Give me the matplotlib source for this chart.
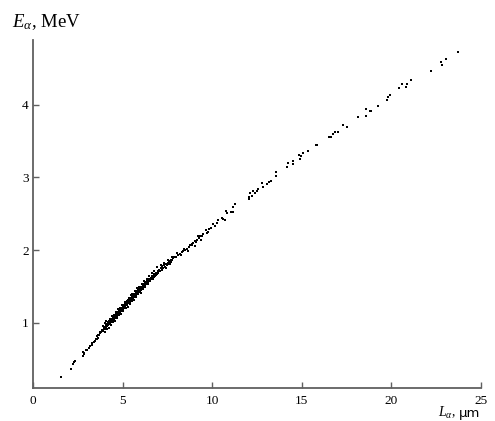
import matplotlib
matplotlib.use("Agg")
import matplotlib.pyplot as plt

plt.rcParams['font.family'] = ['Liberation Serif', 'DejaVu Serif']
plt.rcParams['mathtext.fontset'] = 'custom'
plt.rcParams['mathtext.rm'] = 'Liberation Serif'
plt.rcParams['mathtext.it'] = 'Liberation Serif:italic'

# Range L (um) and energy E (MeV) of alpha particles
L_low = [1.54, 2.12, 2.25, 2.29, 2.34, 2.77, 2.81, 2.83, 2.86, 2.96, 3.03, 3.10, 3.16,
         3.27, 3.30, 3.39, 3.46, 3.50, 3.55, 3.57, 3.60, 3.65, 3.70, 3.72, 3.76, 3.80, 3.83]
E_low = [0.25, 0.36, 0.43, 0.46, 0.48, 0.55, 0.60, 0.58, 0.57, 0.63, 0.63, 0.66, 0.68,
         0.69, 0.72, 0.74, 0.75, 0.78, 0.78, 0.82, 0.79, 0.84, 0.83, 0.87, 0.86, 0.88, 0.90]

L_dense = [3.88, 3.92, 3.95, 3.97, 4.00, 4.02, 4.05, 4.06, 4.09, 4.10, 4.13, 4.15, 4.17, 4.19,
           4.21, 4.23, 4.25, 4.27, 4.29, 4.31, 4.33, 4.35, 4.37, 4.39, 4.41, 4.43, 4.45, 4.47,
           4.49, 4.52,
           4.54, 4.56, 4.58, 4.60, 4.62, 4.64, 4.66, 4.68, 4.70, 4.72, 4.74, 4.76, 4.78, 4.80,
           4.82, 4.84, 4.86, 4.88, 4.90, 4.92, 4.94, 4.96, 4.98, 5.00, 5.02, 5.04, 5.06, 5.08,
           5.10, 5.12, 5.14, 5.16, 5.18, 5.20, 5.22,
           5.24, 5.26, 5.28, 5.30, 5.32, 5.34, 5.36, 5.38, 5.40, 5.42, 5.44, 5.46, 5.48, 5.50,
           5.53, 5.55, 5.57, 5.60, 5.62, 5.64, 5.66, 5.68, 5.70, 5.73, 5.75, 5.78, 5.80, 5.83,
           5.85, 5.88, 5.90, 5.93, 5.95, 5.98, 6.00,
           6.03, 6.05, 6.08, 6.11, 6.14, 6.17, 6.20, 6.23, 6.26, 6.29, 6.32, 6.35, 6.38, 6.41,
           6.44, 6.47, 6.50, 6.53, 6.56, 6.60, 6.63, 6.67, 6.70, 6.74, 6.78, 6.82, 6.86, 6.90,
           6.95, 6.99,
           7.04, 7.08, 7.13, 7.18, 7.22, 7.27, 7.32, 7.37, 7.42, 7.47, 7.52, 7.56, 7.60, 7.64,
           7.68, 7.72, 7.76, 7.79, 5.51, 4.08]
E_dense = [0.90, 0.89, 0.92, 0.94, 0.91, 0.95, 0.93, 0.97, 0.96, 0.93, 0.98, 0.96, 1.00, 0.97,
           1.01, 0.99, 1.02, 0.98, 1.03, 1.00, 1.04, 1.02, 1.05, 1.01, 1.06, 1.04, 1.07, 1.03,
           1.08, 1.06,
           1.09, 1.07, 1.10, 1.08, 1.12, 1.09, 1.11, 1.13, 1.10, 1.14, 1.12, 1.15, 1.13, 1.16,
           1.14, 1.18, 1.15, 1.17, 1.19, 1.16, 1.20, 1.18, 1.21, 1.19, 1.22, 1.20, 1.23, 1.21,
           1.24, 1.22, 1.26, 1.23, 1.25, 1.27, 1.24,
           1.28, 1.26, 1.29, 1.27, 1.31, 1.28, 1.30, 1.32, 1.29, 1.33, 1.31, 1.34, 1.32, 1.35,
           1.33, 1.37, 1.34, 1.38, 1.36, 1.39, 1.37, 1.40, 1.38, 1.41, 1.39, 1.42, 1.40, 1.44,
           1.42, 1.45, 1.43, 1.46, 1.44, 1.47, 1.45,
           1.49, 1.47, 1.50, 1.48, 1.52, 1.50, 1.53, 1.51, 1.55, 1.53, 1.56, 1.54, 1.58, 1.56,
           1.59, 1.57, 1.61, 1.59, 1.62, 1.60, 1.64, 1.62, 1.65, 1.63, 1.67, 1.65, 1.69, 1.67,
           1.71, 1.69,
           1.73, 1.71, 1.75, 1.73, 1.78, 1.76, 1.79, 1.77, 1.81, 1.79, 1.83, 1.81, 1.85, 1.83,
           1.86, 1.84, 1.87, 1.89, 1.40, 1.02]

L_spread = [3.93, 3.99, 4.04, 4.11, 4.16, 4.22, 4.28, 4.34, 4.40, 4.46, 4.51, 4.57, 4.63, 4.69,
            4.75, 4.81, 4.87, 4.93, 4.99, 5.05, 5.11, 5.17, 5.23, 5.29, 5.35, 5.41, 5.47, 5.52,
            5.58, 5.64, 5.70, 5.76, 5.82, 5.88, 5.94, 6.00, 6.07, 6.13, 6.20, 6.27, 6.34, 6.41,
            6.48, 6.55, 6.62, 6.70, 6.78, 6.86, 6.94, 7.03, 7.12, 7.21, 7.31, 7.41, 7.52, 7.63,
            7.75]
E_spread = [0.96, 0.88, 1.00, 0.92, 1.01, 0.93, 1.06, 0.97, 1.10, 1.01, 1.11, 1.02, 1.15, 1.07,
            1.19, 1.11, 1.21, 1.12, 1.25, 1.16, 1.29, 1.21, 1.30, 1.22, 1.34, 1.26, 1.39, 1.30,
            1.40, 1.31, 1.44, 1.36, 1.48, 1.40, 1.49, 1.41, 1.54, 1.46, 1.58, 1.50, 1.60, 1.53,
            1.65, 1.58, 1.69, 1.61, 1.72, 1.66, 1.77, 1.71, 1.79, 1.73, 1.82, 1.76, 1.87, 1.81,
            1.91]

L_mid = [7.87, 7.98, 8.09, 8.20, 8.31, 8.39, 8.50, 8.58, 8.69, 8.76, 8.87, 8.95, 9.06, 9.10,
         9.17, 9.28, 9.32, 9.43, 9.50, 9.65, 9.69, 9.77, 9.84, 9.92, 10.03, 10.17, 10.25,
         10.32, 10.55, 10.62, 10.69, 10.75, 10.84, 11.03, 11.18, 11.18, 11.25,
         8.05, 8.25, 8.45, 8.65, 8.85, 9.02, 9.22, 9.40]
E_mid = [1.90, 1.91, 1.93, 1.95, 1.97, 1.99, 2.00, 2.02, 2.04, 2.07, 2.07, 2.10, 2.13, 2.11,
         2.14, 2.17, 2.20, 2.19, 2.22, 2.28, 2.24, 2.25, 2.29, 2.30, 2.36, 2.33, 2.37,
         2.41, 2.44, 2.43, 2.41, 2.54, 2.51, 2.53, 2.60, 2.52, 2.64,
         1.96, 1.93, 2.02, 1.99, 2.09, 2.06, 2.19, 2.14]

L_high = [12.04, 12.07, 12.13, 12.22, 12.29, 12.41, 12.48, 12.56, 12.76, 12.85, 13.04, 13.19,
          13.30, 13.56, 13.56, 14.17, 14.25, 14.49, 14.53, 14.84, 14.92, 14.96, 15.09, 15.35,
          15.79, 15.87, 16.54, 16.63, 16.72, 16.85, 17.00, 17.32, 17.50, 18.12, 18.58, 18.60,
          18.79, 18.88, 19.23, 19.75, 19.79, 19.90, 20.44, 20.59, 20.81, 20.85, 21.09, 22.19,
          22.75, 22.80, 23.05, 23.73]
E_high = [2.70, 2.73, 2.79, 2.75, 2.81, 2.78, 2.81, 2.84, 2.92, 2.87, 2.91, 2.94,
          2.95, 3.07, 3.02, 3.14, 3.20, 3.19, 3.23, 3.31, 3.25, 3.29, 3.34, 3.36,
          3.45, 3.45, 3.55, 3.55, 3.60, 3.62, 3.63, 3.72, 3.70, 3.83, 3.85, 3.94,
          3.91, 3.91, 3.98, 4.07, 4.10, 4.13, 4.23, 4.29, 4.25, 4.28, 4.34, 4.46,
          4.59, 4.55, 4.63, 4.73]

L_all = L_low + L_dense + L_spread + L_mid + L_high
E_all = E_low + E_dense + E_spread + E_mid + E_high

x_ticks = [0, 5, 10, 15, 20, 25]
y_ticks = [1, 2, 3, 4]

fig = plt.figure(figsize=(4.95, 4.21), dpi=100)
ax = fig.add_axes([33/495, 33/421, 448/495, 348/421])
ax.scatter(L_all, E_all, s=2.4, marker='s', color='black', linewidths=0)

ax.set_xlim(0, 25)
ax.set_ylim(0.105, 4.89)
ax.set_xticks(x_ticks)
ax.set_yticks(y_ticks)
ax.spines['top'].set_visible(False)
ax.spines['right'].set_visible(False)
for s in ('left', 'bottom'):
    ax.spines[s].set_color('#606060')
    ax.spines[s].set_linewidth(1.3)
ax.tick_params(direction='in', length=4, width=1.0, color='#606060',
               labelsize=9.5, pad=5)
ax.tick_params(axis='y', pad=3)

fig.text(12/495, 1 - 22/421, r"$E_{\alpha}$, MeV", fontsize=13.5, va='center', ha='left')
fig.text(438/495, 1 - 413/421, r"$L_{\alpha}$,", fontsize=10, va='center', ha='left')
fig.text(459/495, 1 - 413/421, "μm", fontsize=9.5, va='center', ha='left',
         family=['DejaVu Sans'])

fig.savefig("out.png", dpi=100)
